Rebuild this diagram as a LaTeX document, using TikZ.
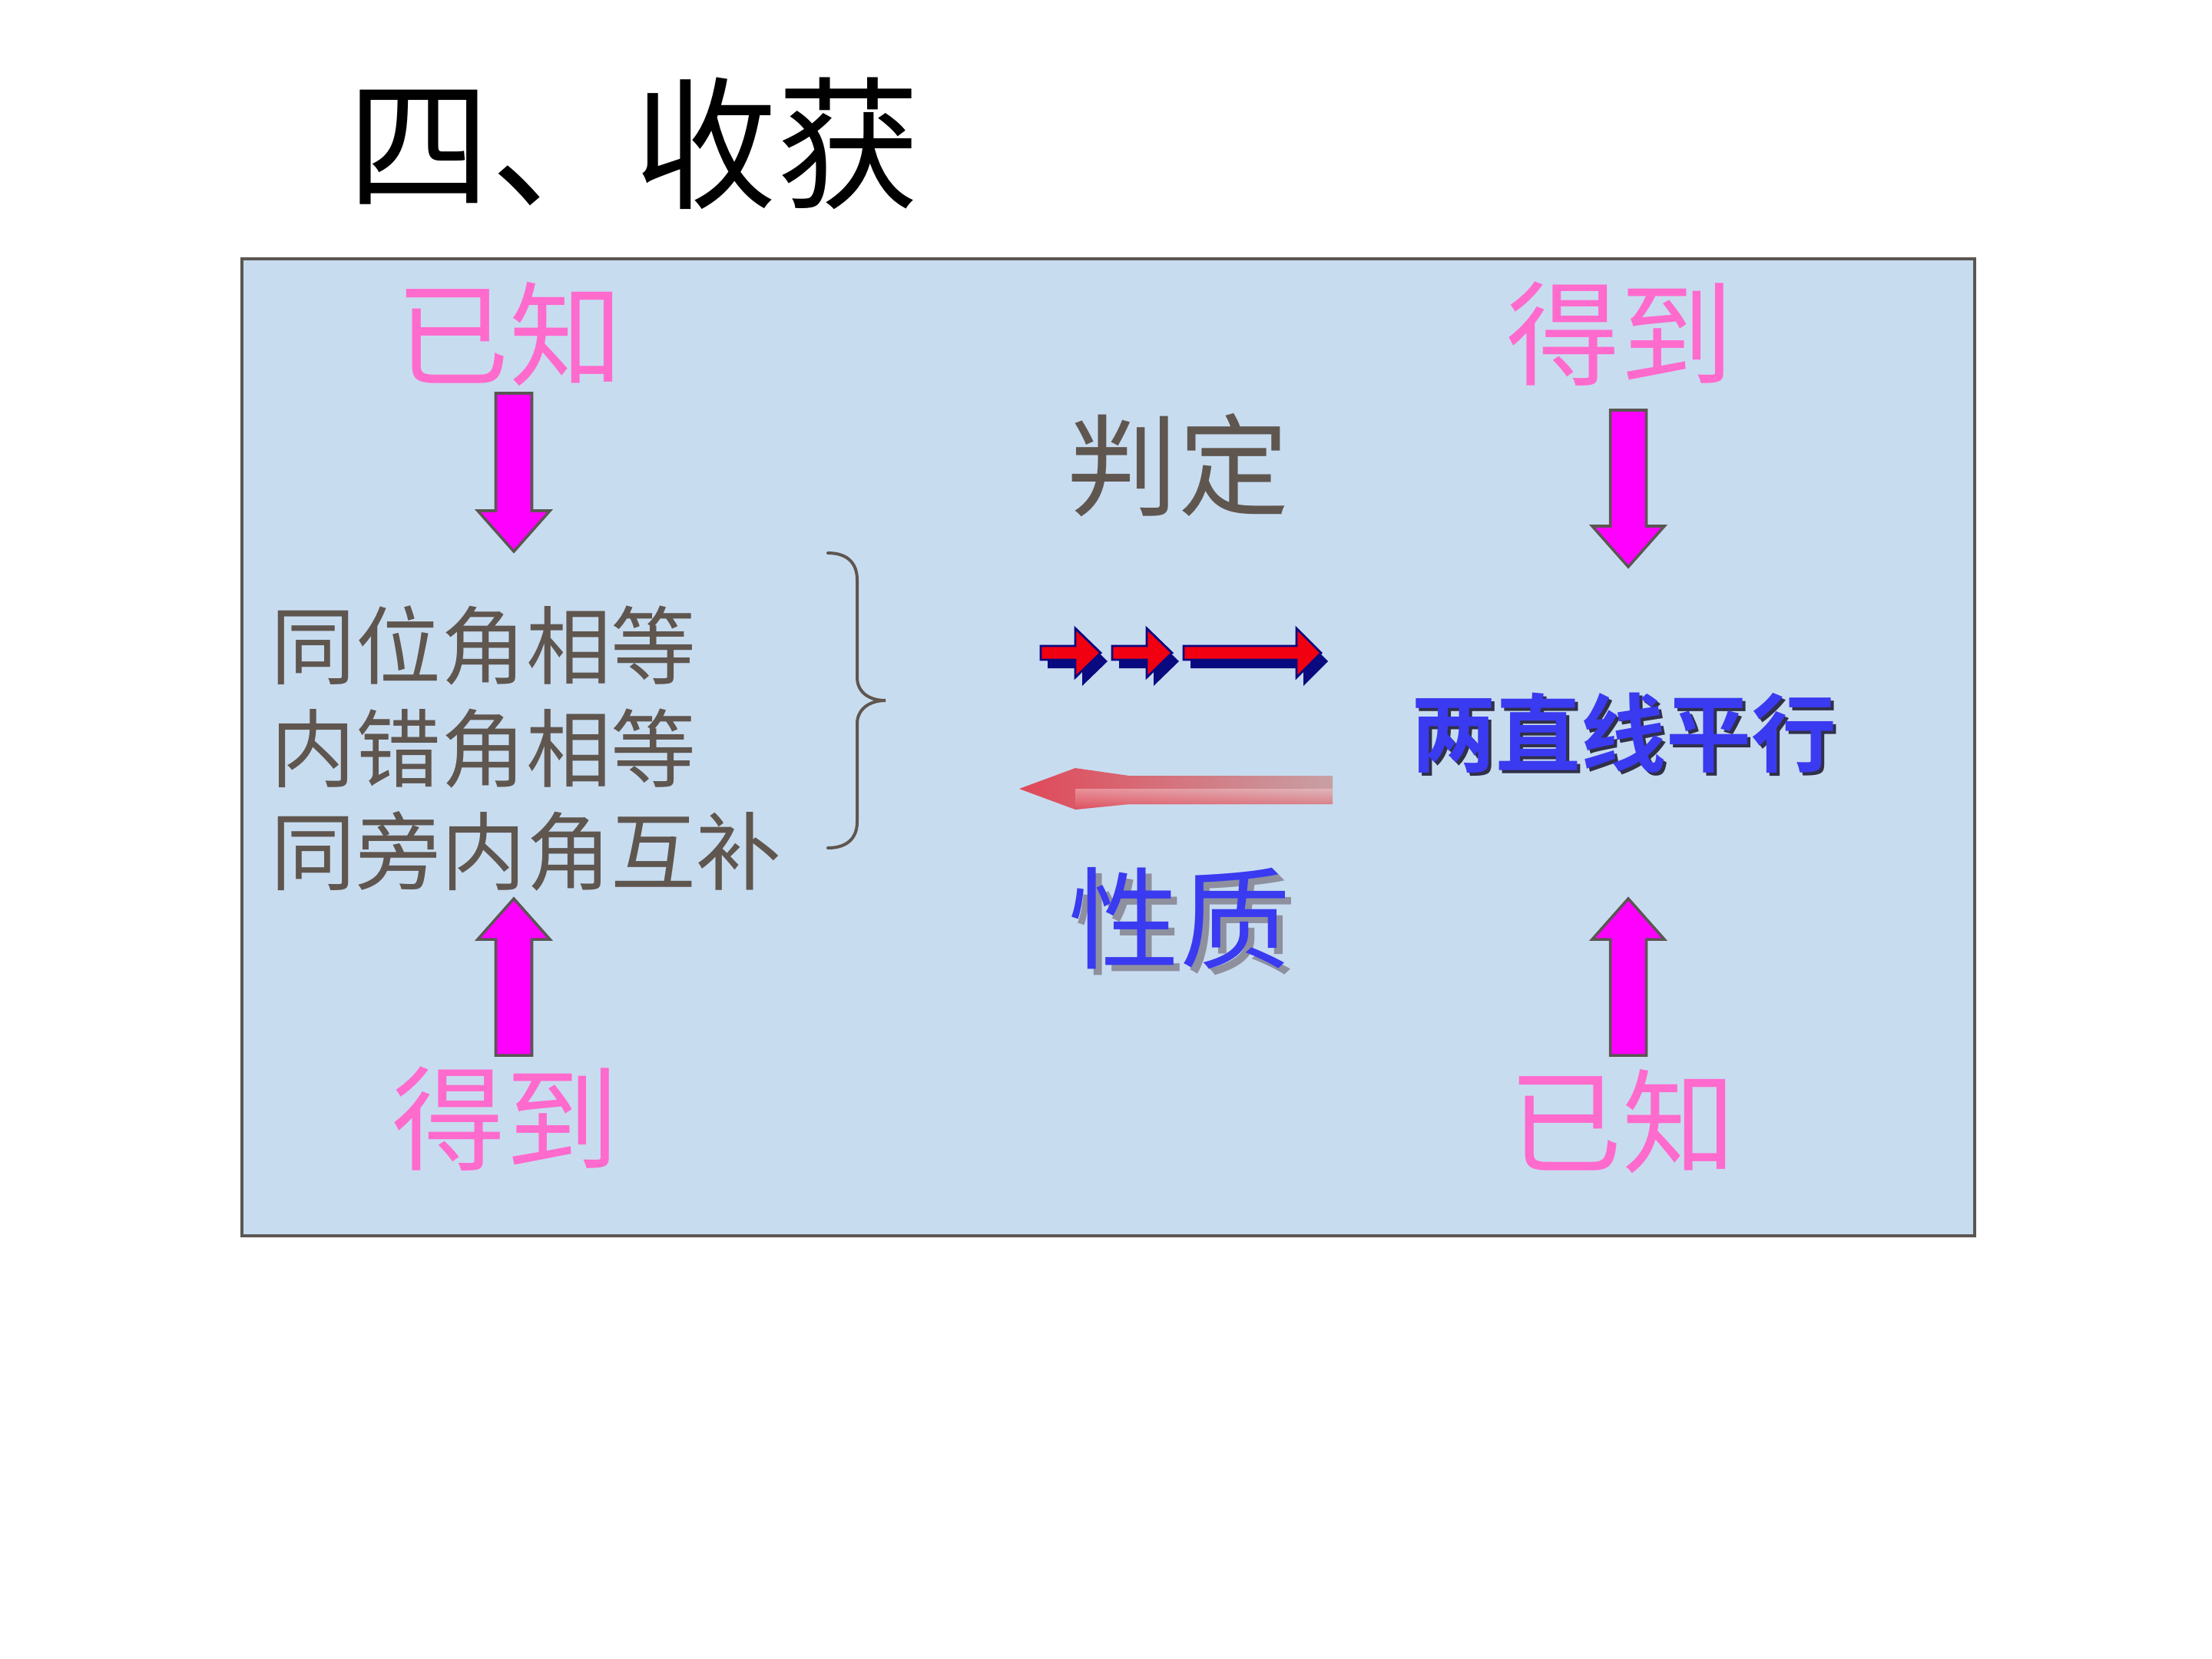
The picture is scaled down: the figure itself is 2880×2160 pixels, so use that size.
\documentclass[tikz,border=0pt]{standalone}
\usepackage{fontspec}
\setmainfont{Noto Sans CJK SC}
\newfontfamily\cjk{Noto Sans CJK SC}
\newfontfamily\cjkbold{Noto Sans CJK SC Bold}
\definecolor{boxfill}{HTML}{C8DCF0}
\definecolor{boxline}{HTML}{5A5652}
\definecolor{pinktxt}{HTML}{FF6ACD}
\definecolor{magarrow}{HTML}{FF00FF}
\definecolor{graytxt}{HTML}{5F564F}
\definecolor{bluetxt}{HTML}{3A3AF0}
\definecolor{navyarr}{HTML}{0A0A80}
\definecolor{redarr}{HTML}{F00010}
\definecolor{shadowgray}{HTML}{8E909E}
\definecolor{shadowdark}{HTML}{303048}
\definecolor{spearA}{HTML}{E04858}
\definecolor{spearB}{HTML}{E87A84}
\definecolor{spearC}{HTML}{C8A0A4}
\newcommand\fs[1]{\fontsize{#1}{#1}\selectfont}
\newcommand\mydnarrow[3]{%
  \draw[blockarrow] (#1-23.5,#2) -- (#1+23.5,#2) -- (#1+23.5,#3-53) -- (#1+47,#3-53)
    -- (#1,#3) -- (#1-47,#3-53) -- (#1-23.5,#3-53) -- cycle;}
\newcommand\myuparrow[3]{%
  \draw[blockarrow] (#1-23.5,#3) -- (#1+23.5,#3) -- (#1+23.5,#2+53) -- (#1+47,#2+53)
    -- (#1,#2) -- (#1-47,#2+53) -- (#1-23.5,#2+53) -- cycle;}
\newcommand\redarrowshape[4]{(#1,#4-9) -- (#2,#4-9) -- (#2,#4-32) -- (#3,#4) -- (#2,#4+32) -- (#2,#4+9) -- (#1,#4+9) -- cycle}
\newcommand\myredarrow[4]{%
  \fill[navyarr,shift={(9,11)}] \redarrowshape{#1}{#2}{#3}{#4};
  \draw[fill=redarr,draw=navyarr,line width=0.8pt] \redarrowshape{#1}{#2}{#3}{#4};}
\tikzset{
  blockarrow/.style={fill=magarrow,draw=boxline,line width=1pt,line join=miter},
  pinklabel/.style={text=pinktxt,inner sep=0pt,font=\cjk\fs{42pt}},
  graylist/.style={text=graytxt,inner sep=0pt,anchor=west,font=\cjk\fs{31.5pt}},
}
\begin{document}
\begin{tikzpicture}[x=0.01cm,y=-0.01cm]
\useasboundingbox (0,0) rectangle (2880,2160);
\fill[white] (0,0) rectangle (2880,2160);
% title
\node[anchor=west,inner sep=0pt,font=\cjk\fs{53pt}] (title) at (452,187) {四、收获};
% box
\draw[fill=boxfill,draw=boxline,line width=0.04cm] (315,337) rectangle (2571,1609);
% pink labels
\node[pinklabel] (known1) at (663,435) {已知};
\node[pinklabel] (get1) at (2109,435) {得到};
\node[pinklabel] (get2) at (658,1457) {得到};
\node[pinklabel] (known2) at (2112,1460) {已知};
% magenta arrows
\mydnarrow{669}{512}{718}
\mydnarrow{2120}{534}{738}
\myuparrow{669}{1170}{1374}
\myuparrow{2120}{1170}{1374}
% list
\node[graylist] (l1) at (352,840) {同位角相等};
\node[graylist] (l2) at (352,975) {内错角相等};
\node[graylist] (l3) at (352,1108) {同旁内角互补};
% brace
\draw[graytxt,line width=0.04cm,line cap=round]
  (1078,720) .. controls (1102,720) and (1116,732) .. (1116,755) -- (1116,882)
  .. controls (1116,900) and (1130,912) .. (1153,912)
  .. controls (1130,912) and (1116,925) .. (1116,942) -- (1116,1070)
  .. controls (1116,1092) and (1102,1104) .. (1078,1104);
% judge
\node[text=graytxt,inner sep=0pt,font=\cjk\fs{41pt}] (judge) at (1534,606) {判定};
% red arrows
\myredarrow{1355}{1400}{1433}{850}
\myredarrow{1448}{1493}{1526}{850}
\myredarrow{1541}{1688}{1720}{850}
% pink textured arrow
\shade[left color=spearA,middle color=spearB,right color=spearC]
  (1327,1027) -- (1400,1000) -- (1470,1010) -- (1735,1010) -- (1735,1047)
  -- (1470,1047) -- (1400,1054) -- cycle;
\shade[top color=white!60!spearB,bottom color=spearA,opacity=0.5]
  (1400,1027) -- (1735,1027) -- (1735,1047) -- (1470,1047) -- (1400,1054) -- cycle;
% property
\node[text=shadowgray,inner sep=0pt,font=\cjk\fs{41pt}] at (1544,1204) {性质};
\node[text=bluetxt,inner sep=0pt,font=\cjk\fs{41pt}] (prop) at (1536,1196) {性质};
% result
\node[text=shadowdark,inner sep=0pt,font=\cjkbold\fs{31.5pt}] at (2118,958) {两直线平行};
\node[text=bluetxt,inner sep=0pt,font=\cjkbold\fs{31.5pt}] (res) at (2114,954) {两直线平行};
\end{tikzpicture}
\end{document}
